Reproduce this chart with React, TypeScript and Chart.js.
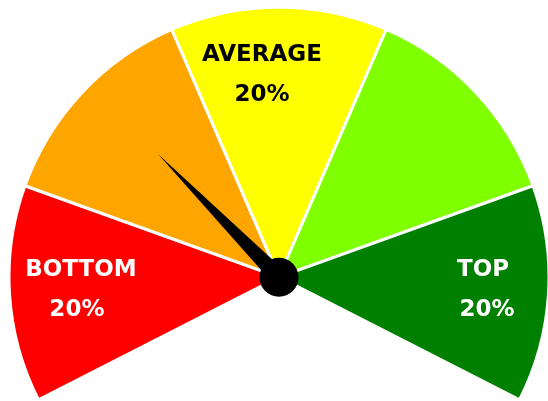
import { useEffect, useRef } from "react"
import { Chart, registerables } from "chart.js"

Chart.register(...registerables)

// ── Gauge data ───────────────────────────────────────────────
const SEGMENT_NAMES  = ["BOTTOM", "BELOW AVERAGE", "AVERAGE", "ABOVE AVERAGE", "TOP"]
const SEGMENT_SHARES = [20, 20, 20, 20, 20]
const SEGMENT_LABELS = ["BOTTOM", "", "AVERAGE", "", "TOP"]
const SEGMENT_COLORS = ["#ff0000", "#ffa500", "#ffff00", "#7fff00", "#008000"]
const LABEL_COLORS   = ["#ffffff", "#000000", "#000000", "#000000", "#ffffff"]
const NEEDLE_VALUE   = 31
const GAUGE_MAX      = 100

// ── Layout / style ───────────────────────────────────────────
const FONT        = "bold 23px 'DejaVu Sans', Verdana, sans-serif"
const LABEL_R     = 0.75   // fraction of outer radius
const LINE_GAP    = 20     // half distance between name and share lines
const LABEL_NUDGE = [4, 0, -17, 0, 2]
const NEEDLE_LEN  = 0.64
const NEEDLE_HALF = 8.5
const HUB_R       = 19.5

const gaugeDecor = {
  id: "gaugeDecor",
  afterDatasetsDraw(chart: Chart) {
    const meta = chart.getDatasetMeta(0)
    const arcs = meta.data as any[]
    if (!arcs.length) return
    const { x: cx, y: cy, outerRadius: R } = arcs[0]
    const start = arcs[0].startAngle
    const end   = arcs[arcs.length - 1].endAngle
    const ctx = chart.ctx

    // segment labels
    ctx.save()
    ctx.font = FONT
    ctx.textAlign = "center"
    ctx.textBaseline = "middle"
    arcs.forEach((a, i) => {
      if (!SEGMENT_LABELS[i]) return
      const mid = (a.startAngle + a.endAngle) / 2
      const lx = cx + Math.cos(mid) * R * LABEL_R + LABEL_NUDGE[i]
      const ly = cy + Math.sin(mid) * R * LABEL_R
      ctx.fillStyle = LABEL_COLORS[i]
      ctx.fillText(SEGMENT_LABELS[i], lx, ly - LINE_GAP)
      ctx.fillText(`${SEGMENT_SHARES[i]}%`, lx - (i === 0 ? 4 : i === 4 ? -4 : 0), ly + LINE_GAP)
    })

    // needle
    const ang = start + (NEEDLE_VALUE / GAUGE_MAX) * (end - start)
    const tipX = cx + Math.cos(ang) * R * NEEDLE_LEN
    const tipY = cy + Math.sin(ang) * R * NEEDLE_LEN
    const px = -Math.sin(ang) * NEEDLE_HALF
    const py =  Math.cos(ang) * NEEDLE_HALF
    ctx.fillStyle = "#000000"
    ctx.beginPath()
    ctx.moveTo(cx + px, cy + py)
    ctx.lineTo(tipX, tipY)
    ctx.lineTo(cx - px, cy - py)
    ctx.closePath()
    ctx.fill()

    // hub
    ctx.beginPath()
    ctx.arc(cx, cy, HUB_R, 0, Math.PI * 2)
    ctx.fill()
    ctx.restore()
  },
}

export default function App() {
  const ref = useRef<HTMLCanvasElement>(null)

  useEffect(() => {
    if (!ref.current) return
    const chart = new Chart(ref.current, {
      type: "doughnut",
      data: {
        labels: SEGMENT_NAMES,
        datasets: [{
          data: SEGMENT_SHARES,
          backgroundColor: SEGMENT_COLORS,
          borderColor: "#ffffff",
          borderWidth: 3,
          radius: 270,
        } as any],
      },
      options: {
        responsive: true,
        maintainAspectRatio: false,
        animation: false,
        events: [],
        rotation: -117,
        circumference: 234,
        cutout: 0,
        layout: { padding: { left: 10, top: 6, right: 0, bottom: 0 } },
        plugins: {
          legend: { display: false },
          tooltip: { enabled: false },
        },
      },
      plugins: [gaugeDecor],
    })
    return () => chart.destroy()
  }, [])

  return (
    <div style={{ position: "fixed", left: 0, top: 0, width: 548, height: 401, background: "#ffffff" }}>
      <canvas ref={ref} />
    </div>
  )
}
